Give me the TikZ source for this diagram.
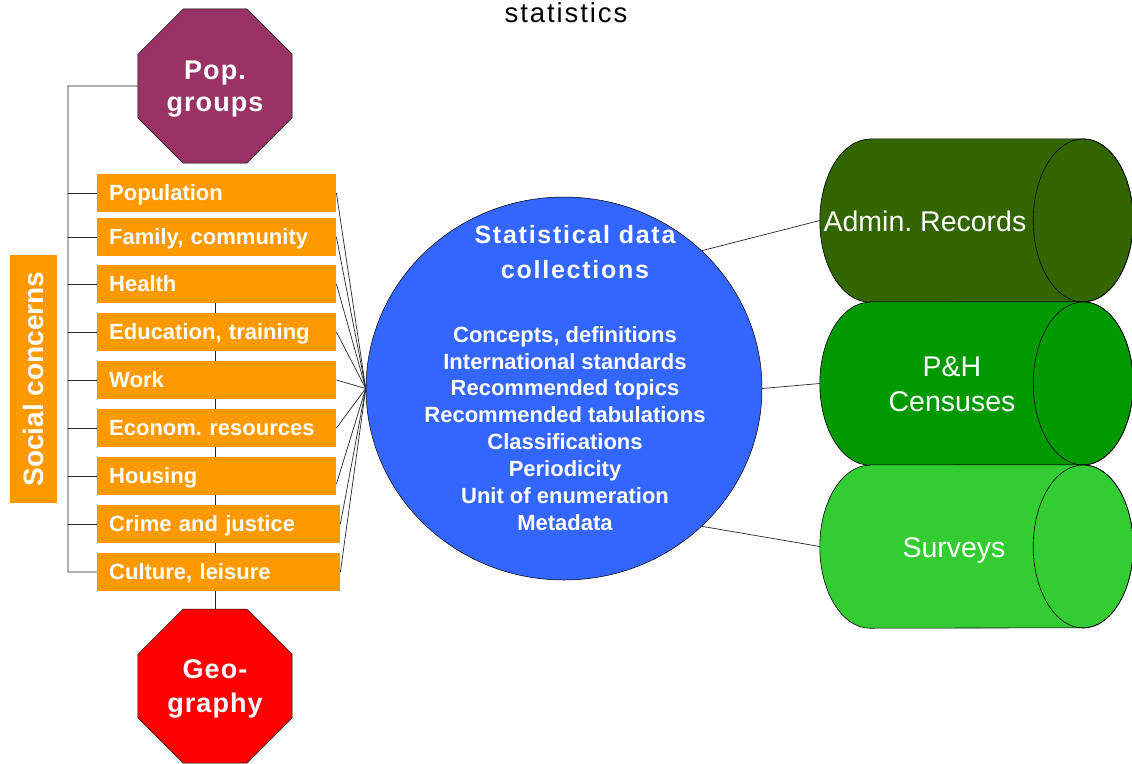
\documentclass[tikz,border=0pt]{standalone}
\usepackage{fontspec}
\setmainfont{Liberation Sans}
\newfontfamily\spacedfont[LetterSpace=7]{Liberation Sans}
\newfontfamily\octfont[LetterSpace=4]{Liberation Sans}
\usetikzlibrary{shapes.geometric}
\pgfdeclarelayer{background}
\pgfsetlayers{background,main}
\definecolor{orangeC}{HTML}{FF9900}
\definecolor{popC}{HTML}{993366}
\definecolor{geoC}{HTML}{FF0000}
\definecolor{blueC}{HTML}{3366FF}
\definecolor{admC}{HTML}{336600}
\definecolor{phC}{HTML}{009900}
\definecolor{svC}{HTML}{33CC33}
\newcommand\drawcyl[2]{%
  \filldraw[fill=#2, draw=black, line width=0.6pt]
    ([xshift=50pt]#1.north west) -- ([xshift=-50pt]#1.north east)
    arc[start angle=90, end angle=-90, x radius=50, y radius=81.5]
    -- ([xshift=50pt]#1.south west)
    arc[start angle=270, end angle=90, x radius=50, y radius=81.5] -- cycle;
  \draw[line width=0.6pt] ([xshift=-50pt]#1.east) ellipse [x radius=50, y radius=81.5];
}
\begin{document}
\frenchspacing
\begin{tikzpicture}[x=1pt, y=1pt,
  conn/.style={draw=black!85, line width=0.7pt},
  sbox/.style={fill=orangeC, anchor=west, minimum height=38pt, inner xsep=12pt,
    inner ysep=0pt, text width=#1, align=left, text height=15.75pt, text depth=0pt,
    text=white, font=\frenchspacing\bfseries\fontsize{22}{26}\selectfont},
  sbox/.default=215pt,
  oct/.style={regular polygon, regular polygon sides=8, minimum size=166.7pt,
    inner sep=0pt, outer sep=0pt, draw=black, line width=0.5pt, text=white,
    align=center, text depth=0pt},
  cylnode/.style={rectangle, minimum width=313pt, minimum height=163pt, inner sep=0pt},
  cyltext/.style={text=white, align=center, inner sep=0pt,
    font=\frenchspacing\fontsize{28.5}{35}\selectfont},
]
\useasboundingbox (0,0) rectangle (1132,-763);

% title fragment
\node[anchor=base, inner sep=0pt, font=\spacedfont\fontsize{27.5}{32}\selectfont] (ttl) at (566,-22.7) {statistics};

% octagons
\node[oct, fill=popC, font=\frenchspacing\octfont\bfseries\fontsize{27}{32}\selectfont] (pop) at (215,-86) {Pop.\\groups};
\node[oct, fill=geoC, font=\octfont\bfseries\fontsize{27}{34}\selectfont] (geo) at (215,-686) {Geo-\\graphy};

% social concerns
\node[fill=orangeC, rotate=90, minimum width=248pt, minimum height=47pt, inner sep=0pt,
  text=white, font=\bfseries\fontsize{28}{32}\selectfont] (soc) at (33.5,-379) {Social concerns};

% boxes
\node[sbox] (b1) at (97,-193) {Population};
\node[sbox] (b2) at (97,-237) {Family, community};
\node[sbox] (b3) at (97,-284) {Health};
\node[sbox] (b4) at (97,-332) {Education, training};
\node[sbox] (b5) at (97,-380) {Work};
\node[sbox] (b6) at (97,-428) {Econom. resources};
\node[sbox] (b7) at (97,-476) {Housing};
\node[sbox=219pt] (b8) at (97,-524) {Crime and justice};
\node[sbox=219pt] (b9) at (97,-572) {Culture, leisure};

% central circle
\node[ellipse, minimum width=396pt, minimum height=383pt, inner sep=0pt,
  fill=blueC, draw=black, line width=0.5pt] (circ) at (564,-388.5) {};
\node[anchor=north, inner sep=0pt, text=white, align=center,
  font=\spacedfont\bfseries\fontsize{25}{35}\selectfont] (ctitle) at (575,-225)
  {Statistical data\\collections};
\node[anchor=north, inner sep=0pt, text=white, align=center,
  font=\bfseries\fontsize{22}{26.86}\selectfont] (clist) at (565,-326)
  {Concepts, definitions\\International standards\\Recommended topics\\
   Recommended tabulations\\Classifications\\Periodicity\\Unit of enumeration\\Metadata};

% cylinders
\node[cylnode] (adm) at (976.5,-220.5) {};
\node[cylnode] (ph) at (976.5,-383.5) {};
\node[cylnode] (sv) at (976.5,-546.5) {};
\drawcyl{adm}{admC}
\drawcyl{ph}{phC}
\drawcyl{sv}{svC}
\node[cyltext] (admt) at (925,-221) {Admin. Records};
\node[cyltext] (pht) at (952,-384.5) {P\&H\\Censuses};
\node[cyltext] (svt) at (954,-550) {Surveys};

% connectors
\coordinate (brk) at (68,-86);
\draw[conn] (pop.west) -- (brk) |- (b9.west);
\foreach \b in {b1,b2,b3,b4,b5,b6,b7,b8}
  \draw[conn] (\b.west) -- (\b.west -| brk);
\begin{pgfonlayer}{background}
  \draw[conn] (geo.north) -- (geo.north |- b3.south);
\end{pgfonlayer}
\foreach \b in {b1,b2,b3,b4,b5,b6,b8,b9}
  \draw[conn] (\b.east) -- (circ.west);
\draw[conn] ([yshift=-8pt]b7.east) -- (circ.west);
\draw[conn] (circ.45) -- (adm.west);
\draw[conn] (circ.east) -- (ph.west);
\draw[conn] (circ.-45) -- (sv.west);
\end{tikzpicture}
\end{document}
